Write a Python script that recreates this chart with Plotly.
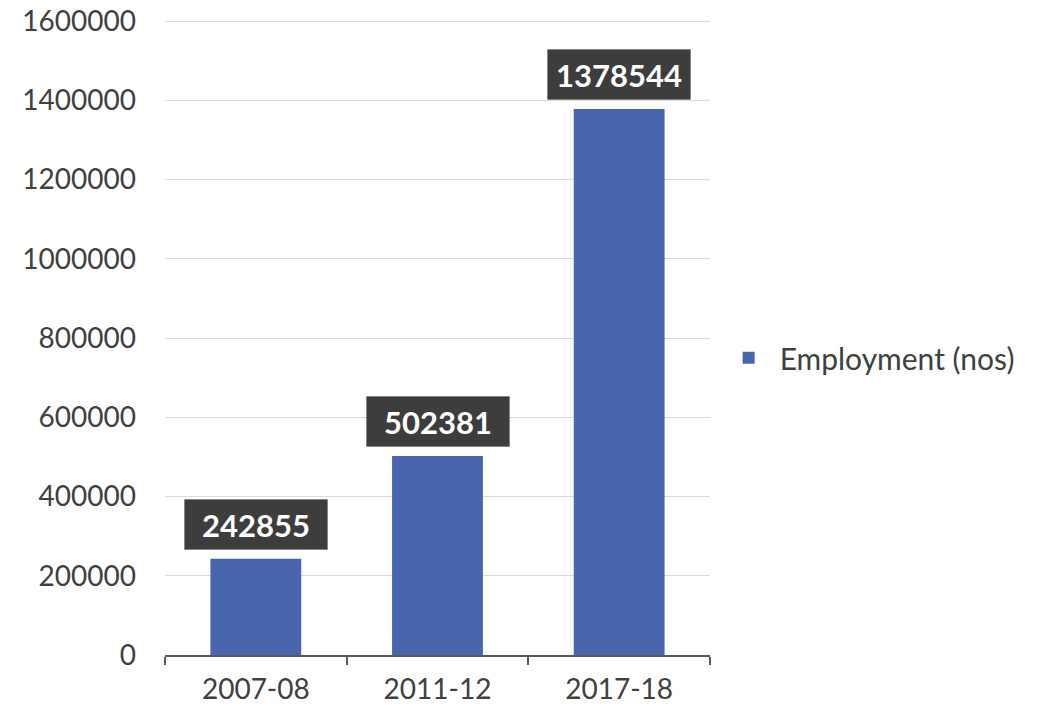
import plotly.graph_objects as go

categories = ["2007-08", "2011-12", "2017-18"]
employment = [242855, 502381, 1378544]
series_name = "Employment (nos)"
y_ticks = [0, 200000, 400000, 600000, 800000, 1000000, 1200000, 1400000, 1600000]

bar_color = "#4865AD"
text_color = "#404040"
font_family = "Lato, Open Sans, sans-serif"

fig = go.Figure()
fig.add_trace(go.Bar(
    x=categories, y=employment, name=series_name,
    marker=dict(color=bar_color, line=dict(width=0)),
    showlegend=True,
))

# data labels in dark boxes
for c, v in zip(categories, employment):
    fig.add_annotation(
        x=c, y=v, xref="x", yref="y", text=f"<b>{v}</b>",
        showarrow=False, yanchor="bottom", yshift=9,
        font=dict(family=font_family, size=31, color="white"),
        bgcolor="#3d3d3d", borderpad=6, width=130, height=37,
        bordercolor="rgba(0,0,0,0.15)", borderwidth=1,
    )

fig.update_layout(
    width=1040, height=708,
    margin=dict(l=165, r=330, t=20, b=53, autoexpand=False),
    paper_bgcolor="white", plot_bgcolor="white",
    bargap=0.5,
    font=dict(family=font_family, size=28, color=text_color),
    legend=dict(
        x=1.014, y=0.468, xanchor="left", yanchor="middle",
        font=dict(family=font_family, size=30, color=text_color),
        bgcolor="rgba(0,0,0,0)", itemsizing="constant", itemwidth=52,
    ),
    xaxis=dict(
        type="category", automargin=False,
        showline=True, linecolor="#595959", linewidth=2,
        ticks="outside", tickson="boundaries", ticklen=8, tickwidth=2,
        tickcolor="#595959", showgrid=False, ticklabelstandoff=8,
        tickfont=dict(family=font_family, size=28, color=text_color),
    ),
    yaxis=dict(
        range=[0, 1603000], tickvals=y_ticks, automargin=False,
        ticktext=[str(t) for t in y_ticks],
        showgrid=True, gridcolor="#d9d9d9", gridwidth=1,
        zeroline=False, showline=False, ticks="",
        ticklabelstandoff=28,
        tickfont=dict(family=font_family, size=28, color=text_color),
    ),
)

fig.write_html(
    "out.html",
    config={"displayModeBar": False},
    post_script="document.body.style.margin='0';",
)
